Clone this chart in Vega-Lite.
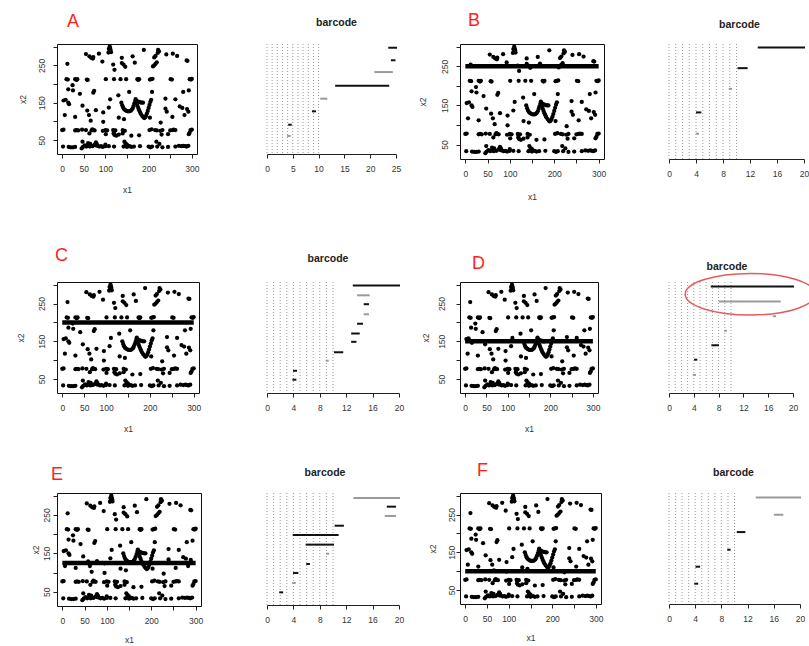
{
"$schema": "https://vega.github.io/schema/vega-lite/v6.json",
"background": "white",
"padding": 0,
"columns": 8,
"spacing": 0,
"bounds": "flush",
"align": "each",
"config": {
  "font": "Liberation Sans",
  "view": {"stroke": null},
  "axis": {"labelFontSize": 8.5, "labelColor": "#333", "tickColor": "#222", "domainColor": "#222", "tickSize": 4, "labelPadding": 6, "titleFontSize": 8.5, "titleFontWeight": "normal", "titleColor": "#333", "grid": false, "minExtent": 20, "maxExtent": 20, "labelFlush": false, "labelOverlap": false, "titlePadding": 11}
},
"datasets": {
  "pts": [
    {"x":110,"y":300},{"x":108,"y":294},{"x":112,"y":291},{"x":109,"y":287},{"x":113,"y":285},{"x":107,"y":284},{"x":111,"y":296},
    {"x":55,"y":280},{"x":63,"y":274},{"x":67,"y":270},{"x":71,"y":268},{"x":72,"y":272},{"x":85,"y":281},{"x":93,"y":260},
    {"x":118,"y":252},{"x":121,"y":238},{"x":138,"y":270},{"x":138,"y":256},{"x":142,"y":252},{"x":146,"y":246},
    {"x":163,"y":274},{"x":168,"y":257},{"x":189,"y":291},
    {"x":222,"y":291},{"x":224,"y":287},{"x":221,"y":283},{"x":216,"y":275},{"x":213,"y":271},{"x":219,"y":258},{"x":216,"y":254},{"x":213,"y":250},{"x":210,"y":247},
    {"x":241,"y":279},{"x":256,"y":281},{"x":266,"y":275},{"x":288,"y":263},{"x":290,"y":262},{"x":12,"y":254},
    {"x":10,"y":213},{"x":13,"y":212},{"x":30,"y":213},{"x":33,"y":211},{"x":35,"y":213},{"x":57,"y":212},{"x":59,"y":211},{"x":101,"y":213},{"x":120,"y":213},{"x":135,"y":213},{"x":148,"y":213},{"x":174,"y":213},{"x":176,"y":211},{"x":178,"y":213},{"x":203,"y":212},{"x":206,"y":213},{"x":209,"y":214},{"x":251,"y":213},{"x":254,"y":212},{"x":295,"y":213},{"x":298,"y":212},{"x":300,"y":214},
    {"x":14,"y":186},{"x":24,"y":197},{"x":25,"y":183},{"x":41,"y":174},{"x":72,"y":177},{"x":74,"y":182},{"x":111,"y":159},{"x":130,"y":170},{"x":155,"y":179},{"x":208,"y":179},{"x":280,"y":179},{"x":293,"y":183},{"x":3,"y":156},{"x":8,"y":158},{"x":14,"y":150},{"x":16,"y":146},{"x":239,"y":161},{"x":262,"y":159},
    {"x":47,"y":142},{"x":58,"y":129},{"x":62,"y":117},{"x":66,"y":102},{"x":78,"y":130},{"x":95,"y":124},{"x":95,"y":99},{"x":6,"y":117},{"x":30,"y":112},{"x":131,"y":110},{"x":143,"y":106},{"x":203,"y":110},{"x":228,"y":97},{"x":255,"y":112},{"x":239,"y":134},{"x":242,"y":126},{"x":272,"y":140},{"x":278,"y":136},{"x":289,"y":133},{"x":292,"y":126},{"x":283,"y":117},{"x":108,"y":137},
    {"x":0,"y":77},{"x":3,"y":78},{"x":30,"y":76},{"x":33,"y":77},{"x":37,"y":76},{"x":46,"y":78},{"x":55,"y":77},{"x":68,"y":76},{"x":70,"y":79},{"x":72,"y":77},{"x":75,"y":76},{"x":94,"y":75},{"x":100,"y":77},{"x":104,"y":76},{"x":118,"y":77},{"x":120,"y":74},{"x":123,"y":76},{"x":140,"y":77},{"x":145,"y":75},{"x":202,"y":77},{"x":207,"y":79},{"x":215,"y":77},{"x":219,"y":76},{"x":227,"y":75},{"x":232,"y":77},{"x":250,"y":76},{"x":255,"y":77},{"x":258,"y":78},{"x":262,"y":77},{"x":297,"y":77},{"x":300,"y":78},
    {"x":101,"y":66},{"x":121,"y":64},{"x":125,"y":62},{"x":131,"y":65},{"x":119,"y":68},{"x":230,"y":65},{"x":245,"y":66},{"x":293,"y":66},{"x":295,"y":70},{"x":63,"y":68},{"x":160,"y":62},{"x":178,"y":63},{"x":140,"y":68},
    {"x":2,"y":33},{"x":15,"y":32},{"x":20,"y":31},{"x":25,"y":31},{"x":30,"y":32},{"x":45,"y":28},{"x":48,"y":32},{"x":52,"y":36},{"x":56,"y":33},{"x":60,"y":35},{"x":64,"y":33},{"x":70,"y":34},{"x":75,"y":38},{"x":78,"y":36},{"x":82,"y":35},{"x":86,"y":33},{"x":90,"y":34},{"x":94,"y":32},{"x":100,"y":34},{"x":108,"y":34},{"x":120,"y":33},{"x":142,"y":33},{"x":146,"y":35},{"x":150,"y":32},{"x":156,"y":34},{"x":160,"y":32},{"x":166,"y":33},{"x":180,"y":34},{"x":200,"y":33},{"x":204,"y":31},{"x":208,"y":33},{"x":220,"y":33},{"x":232,"y":31},{"x":245,"y":32},{"x":262,"y":33},{"x":270,"y":35},{"x":276,"y":34},{"x":281,"y":35},{"x":285,"y":34},{"x":288,"y":33},{"x":292,"y":35},
    {"x":47,"y":46},{"x":60,"y":42},{"x":78,"y":44},{"x":80,"y":40},{"x":147,"y":41},{"x":144,"y":46},{"x":150,"y":38},{"x":218,"y":46},{"x":225,"y":40},{"x":65,"y":40},{"x":100,"y":38},
    {"x":137,"y":150},{"x":139,"y":143},{"x":141,"y":137},{"x":143,"y":133},{"x":146,"y":130},{"x":149,"y":128},{"x":152,"y":127},{"x":155,"y":127},{"x":158,"y":128},{"x":161,"y":131},{"x":163,"y":135},{"x":165,"y":141},{"x":167,"y":148},{"x":169,"y":155},{"x":170,"y":160},
    {"x":172,"y":155},{"x":175,"y":153},{"x":178,"y":152},{"x":181,"y":151},{"x":184,"y":150},{"x":187,"y":150},
    {"x":172,"y":148},{"x":174,"y":142},{"x":176,"y":136},{"x":178,"y":130},{"x":180,"y":125},{"x":182,"y":120},{"x":185,"y":115},{"x":188,"y":111},{"x":190,"y":109},{"x":192,"y":111},{"x":194,"y":115},{"x":196,"y":121},{"x":198,"y":128},{"x":200,"y":136},{"x":202,"y":144},{"x":204,"y":152},{"x":206,"y":158}
  ],
  "grid": [{"x":0},{"x":1},{"x":2},{"x":3},{"x":4},{"x":5},{"x":6},{"x":7},{"x":8},{"x":9},{"x":10}],
  "bars": [
    {"p":"A","x":23.7,"x2":25.0,"y":0.966,"dim":0},{"p":"A","x":24.2,"x2":24.7,"y":0.852,"dim":0},{"p":"A","x":21.0,"x2":24.2,"y":0.745,"dim":1},{"p":"A","x":13.4,"x2":23.5,"y":0.621,"dim":0},{"p":"A","x":10.5,"x2":11.5,"y":0.503,"dim":1},{"p":"A","x":8.9,"x2":9.3,"y":0.388,"dim":0},{"p":"A","x":4.3,"x2":4.6,"y":0.266,"dim":0},{"p":"A","x":4.1,"x2":4.4,"y":0.164,"dim":1},
    {"p":"B","x":13.3,"x2":20.0,"y":0.97,"dim":0},{"p":"B","x":10.3,"x2":11.5,"y":0.79,"dim":0},{"p":"B","x":9.0,"x2":9.2,"y":0.61,"dim":1},{"p":"B","x":4.15,"x2":4.64,"y":0.405,"dim":0},{"p":"B","x":4.1,"x2":4.3,"y":0.22,"dim":1},
    {"p":"C","x":13.15,"x2":20.0,"y":0.968,"dim":0},{"p":"C","x":13.8,"x2":15.4,"y":0.88,"dim":1},{"p":"C","x":14.8,"x2":15.3,"y":0.8,"dim":0},{"p":"C","x":14.8,"x2":15.3,"y":0.709,"dim":1},{"p":"C","x":13.8,"x2":14.4,"y":0.624,"dim":0},{"p":"C","x":12.9,"x2":13.9,"y":0.536,"dim":0},{"p":"C","x":12.9,"x2":13.4,"y":0.461,"dim":0},{"p":"C","x":10.3,"x2":11.4,"y":0.367,"dim":0},{"p":"C","x":9.05,"x2":9.2,"y":0.291,"dim":1},{"p":"C","x":4.1,"x2":4.4,"y":0.2,"dim":0},{"p":"C","x":4.0,"x2":4.3,"y":0.12,"dim":0},
    {"p":"D","x":6.9,"x2":20.0,"y":0.959,"dim":0},{"p":"D","x":8.2,"x2":17.85,"y":0.825,"dim":1},{"p":"D","x":16.9,"x2":17.1,"y":0.692,"dim":1},{"p":"D","x":9.05,"x2":9.2,"y":0.561,"dim":1},{"p":"D","x":7.0,"x2":7.9,"y":0.43,"dim":0},{"p":"D","x":4.2,"x2":4.4,"y":0.3,"dim":0},{"p":"D","x":4.0,"x2":4.2,"y":0.163,"dim":1},
    {"p":"E","x":13.25,"x2":20.0,"y":0.955,"dim":1},{"p":"E","x":18.3,"x2":19.4,"y":0.878,"dim":0},{"p":"E","x":18.0,"x2":19.4,"y":0.795,"dim":1},{"p":"E","x":10.4,"x2":11.5,"y":0.708,"dim":0},{"p":"E","x":4.05,"x2":10.7,"y":0.625,"dim":0},{"p":"E","x":6.0,"x2":10.0,"y":0.539,"dim":0},{"p":"E","x":9.1,"x2":9.25,"y":0.458,"dim":1},{"p":"E","x":6.1,"x2":6.35,"y":0.366,"dim":0},{"p":"E","x":4.1,"x2":4.6,"y":0.286,"dim":0},{"p":"E","x":3.95,"x2":4.2,"y":0.196,"dim":1},{"p":"E","x":2.0,"x2":2.3,"y":0.113,"dim":0},
    {"p":"F","x":13.4,"x2":20.0,"y":0.96,"dim":1},{"p":"F","x":16.2,"x2":17.3,"y":0.804,"dim":1},{"p":"F","x":10.5,"x2":11.5,"y":0.648,"dim":0},{"p":"F","x":9.05,"x2":9.25,"y":0.489,"dim":0},{"p":"F","x":4.2,"x2":4.6,"y":0.336,"dim":0},{"p":"F","x":4.0,"x2":4.3,"y":0.183,"dim":0}
  ]
},
"concat": [
  {"width":57,"height":44,"data":{"values":[]},"mark":"point"},
  {"width":144,"height":44,"data":{"values":[]},"mark":"point"},
  {"width":66,"height":44,"data":{"values":[]},"mark":"point"},
  {"width":132,"height":44,"data":{"values":[]},"mark":"point"},
  {"width":61,"height":44,"data":{"values":[]},"mark":"point"},
  {"width":144,"height":44,"data":{"values":[]},"mark":"point"},
  {"width":65,"height":44,"data":{"values":[]},"mark":"point"},
  {"width":1,"height":44,"data":{"values":[]},"mark":"point"},

  {"width":57,"height":238,"data":{"values":[]},"mark":"point"},
  {"width":140,"height":110,"view":{"stroke":"#111","strokeWidth":1},
   "title":{"text":"A","anchor":"start","frame":"group","color":"#ff1f1f","fontSize":18,"fontWeight":"normal","offset":12.6,"dx":10},
   "encoding":{"x":{"field":"x","type":"quantitative","scale":{"domain":[-12,312],"nice":false,"zero":false},"axis":{"title":"x1","values":[0,50,100,150,200,250,300],"labelExpr":"datum.value == 150 || datum.value == 250 ? '' : datum.label","domain":false}},
               "y":{"field":"y","type":"quantitative","scale":{"domain":[13,307],"nice":false,"zero":false},"axis":{"title":"x2","values":[50,100,150,200,250,300],"labelExpr":"datum.value == 50 || datum.value == 150 || datum.value == 250 ? datum.label : ''","domain":false,"labelAngle":-90,"labelAlign":"center","labelBaseline":"bottom","labelPadding":7,"titlePadding":9.5}}},
   "layer":[{"data":{"name":"pts"},"mark":{"type":"circle","color":"#000","size":18,"opacity":1}}]},
  {"width":66,"height":1,"data":{"values":[]},"mark":"point"},
  {"width":129,"height":110,
   "title":{"text":"barcode","anchor":"middle","frame":"group","fontSize":10.5,"fontWeight":"bold","color":"#222","offset":15.5,"dx":5},
   "encoding":{"x":{"field":"x","type":"quantitative","scale":{"domain":[0,25],"nice":false,"zero":false},"axis":{"title":null,"values":[0,5,10,15,20,25]}}},
   "layer":[
     {"data":{"name":"grid"},"mark":{"type":"rule","color":"#999999","strokeDash":[1,2],"strokeWidth":1}},
     {"data":{"name":"bars"},"transform":[{"filter":"datum.p == 'A'"}],"mark":{"type":"rule","strokeWidth":2,"strokeCap":"square"},"encoding":{"y":{"field":"y","type":"quantitative","scale":{"domain":[0,1],"nice":false,"zero":false},"axis":null},"x2":{"field":"x2"},"color":{"field":"dim","type":"nominal","scale":{"domain":[0,1],"range":["#111","#9a9a9a"]},"legend":null}}}
   ]},
  {"width":61,"height":1,"data":{"values":[]},"mark":"point"},
  {"width":144,"height":115,"view":{"stroke":"#111","strokeWidth":1},
   "title":{"text":"B","anchor":"start","frame":"group","color":"#ff1f1f","fontSize":18,"fontWeight":"normal","offset":13.6,"dx":8},
   "encoding":{"x":{"field":"x","type":"quantitative","scale":{"domain":[-12,312],"nice":false,"zero":false},"axis":{"title":"x1","values":[0,50,100,150,200,250,300],"labelExpr":"datum.value == 150 || datum.value == 250 ? '' : datum.label","domain":false,"titlePadding":13}},
               "y":{"field":"y","type":"quantitative","scale":{"domain":[13,307],"nice":false,"zero":false},"axis":{"title":"x2","values":[50,100,150,200,250,300],"labelExpr":"datum.value == 50 || datum.value == 150 || datum.value == 250 ? datum.label : ''","domain":false,"labelAngle":-90,"labelAlign":"center","labelBaseline":"bottom","labelPadding":7,"titlePadding":12.5}}},
   "layer":[
     {"data":{"name":"pts"},"mark":{"type":"circle","color":"#000","size":18,"opacity":1}},
     {"data":{"values":[{"x":0,"x2":300,"y":250}]},"mark":{"type":"rule","color":"#000","strokeWidth":4.5},"encoding":{"x2":{"field":"x2"}}}
   ]},
  {"width":65,"height":1,"data":{"values":[]},"mark":"point"},
  {"width":135,"height":115,
   "title":{"text":"barcode","anchor":"middle","frame":"group","fontSize":10.5,"fontWeight":"bold","color":"#222","offset":12.8,"dx":3},
   "encoding":{"x":{"field":"x","type":"quantitative","scale":{"domain":[0,20],"nice":false,"zero":false},"axis":{"title":null,"values":[0,4,8,12,16,20]}}},
   "layer":[
     {"data":{"name":"grid"},"mark":{"type":"rule","color":"#999999","strokeDash":[1,2],"strokeWidth":1}},
     {"data":{"name":"bars"},"transform":[{"filter":"datum.p == 'B'"}],"mark":{"type":"rule","strokeWidth":2,"strokeCap":"square"},"encoding":{"y":{"field":"y","type":"quantitative","scale":{"domain":[0,1],"nice":false,"zero":false},"axis":null},"x2":{"field":"x2"},"color":{"field":"dim","type":"nominal","scale":{"domain":[0,1],"range":["#111","#9a9a9a"]},"legend":null}}}
   ]},

  {"width":57,"height":211,"data":{"values":[]},"mark":"point"},
  {"width":142,"height":111,"view":{"stroke":"#111","strokeWidth":1},
   "title":{"text":"C","anchor":"start","frame":"group","color":"#ff1f1f","fontSize":18,"fontWeight":"normal","offset":17.2,"dx":-2},
   "encoding":{"x":{"field":"x","type":"quantitative","scale":{"domain":[-12,312],"nice":false,"zero":false},"axis":{"title":"x1","values":[0,50,100,150,200,250,300],"labelExpr":"datum.value == 150 || datum.value == 250 ? '' : datum.label","domain":false}},
               "y":{"field":"y","type":"quantitative","scale":{"domain":[13,307],"nice":false,"zero":false},"axis":{"title":"x2","values":[50,100,150,200,250,300],"labelExpr":"datum.value == 50 || datum.value == 150 || datum.value == 250 ? datum.label : ''","domain":false,"labelAngle":-90,"labelAlign":"center","labelBaseline":"bottom","labelPadding":7,"titlePadding":11.5}}},
   "layer":[
     {"data":{"name":"pts"},"mark":{"type":"circle","color":"#000","size":18,"opacity":1}},
     {"data":{"values":[{"x":0,"x2":300,"y":200}]},"mark":{"type":"rule","color":"#000","strokeWidth":4.5},"encoding":{"x2":{"field":"x2"}}}
   ]},
  {"width":66,"height":1,"data":{"values":[]},"mark":"point"},
  {"width":132,"height":111,
   "title":{"text":"barcode","anchor":"middle","frame":"group","fontSize":10.5,"fontWeight":"bold","color":"#222","offset":17.5,"dx":-5},
   "encoding":{"x":{"field":"x","type":"quantitative","scale":{"domain":[0,20],"nice":false,"zero":false},"axis":{"title":null,"values":[0,4,8,12,16,20]}}},
   "layer":[
     {"data":{"name":"grid"},"mark":{"type":"rule","color":"#999999","strokeDash":[1,2],"strokeWidth":1}},
     {"data":{"name":"bars"},"transform":[{"filter":"datum.p == 'C'"}],"mark":{"type":"rule","strokeWidth":2,"strokeCap":"square"},"encoding":{"y":{"field":"y","type":"quantitative","scale":{"domain":[0,1],"nice":false,"zero":false},"axis":null},"x2":{"field":"x2"},"color":{"field":"dim","type":"nominal","scale":{"domain":[0,1],"range":["#111","#9a9a9a"]},"legend":null}}}
   ]},
  {"width":61,"height":1,"data":{"values":[]},"mark":"point"},
  {"width":138,"height":111,"view":{"stroke":"#111","strokeWidth":1},
   "title":{"text":"D","anchor":"start","frame":"group","color":"#ff1f1f","fontSize":18,"fontWeight":"normal","offset":8.9,"dx":12},
   "encoding":{"x":{"field":"x","type":"quantitative","scale":{"domain":[-12,312],"nice":false,"zero":false},"axis":{"title":"x1","values":[0,50,100,150,200,250,300],"labelExpr":"datum.value == 150 || datum.value == 250 ? '' : datum.label","domain":false}},
               "y":{"field":"y","type":"quantitative","scale":{"domain":[13,307],"nice":false,"zero":false},"axis":{"title":"x2","values":[50,100,150,200,250,300],"labelExpr":"datum.value == 50 || datum.value == 150 || datum.value == 250 ? datum.label : ''","domain":false,"labelAngle":-90,"labelAlign":"center","labelBaseline":"bottom","labelPadding":10,"titlePadding":9.5}}},
   "layer":[
     {"data":{"name":"pts"},"mark":{"type":"circle","color":"#000","size":18,"opacity":1}},
     {"data":{"values":[{"x":0,"x2":300,"y":150}]},"mark":{"type":"rule","color":"#000","strokeWidth":4.5},"encoding":{"x2":{"field":"x2"}}}
   ]},
  {"width":65,"height":1,"data":{"values":[]},"mark":"point"},
  {"width":124,"height":111,
   "title":{"text":"barcode","anchor":"middle","frame":"group","fontSize":10.5,"fontWeight":"bold","color":"#222","offset":-2,"dx":-4},
   "encoding":{"x":{"field":"x","type":"quantitative","scale":{"domain":[0,20],"nice":false,"zero":false},"axis":{"title":null,"values":[0,4,8,12,16,20]}}},
   "layer":[
     {"data":{"name":"grid"},"mark":{"type":"rule","color":"#999999","strokeDash":[1,2],"strokeWidth":1}},
     {"data":{"name":"bars"},"transform":[{"filter":"datum.p == 'D'"}],"mark":{"type":"rule","strokeWidth":2,"strokeCap":"square"},"encoding":{"y":{"field":"y","type":"quantitative","scale":{"domain":[0,1],"nice":false,"zero":false},"axis":null},"x2":{"field":"x2"},"color":{"field":"dim","type":"nominal","scale":{"domain":[0,1],"range":["#111","#9a9a9a"]},"legend":null}}},
     {"data":{"values":[{"x":13.1,"y":0.89}]},"mark":{"type":"point","shape":"M -1 0 A 1 0.32 0 1 1 1 0 A 1 0.32 0 1 1 -1 0 Z","size":16900,"filled":false,"stroke":"#e85a5a","strokeWidth":1.5,"opacity":1},"encoding":{"y":{"field":"y","type":"quantitative","axis":null}}}
   ]},

  {"width":57,"height":153,"data":{"values":[]},"mark":"point"},
  {"width":144,"height":113,"view":{"stroke":"#111","strokeWidth":1},
   "title":{"text":"E","anchor":"start","frame":"group","color":"#ff1f1f","fontSize":18,"fontWeight":"normal","offset":8.9,"dx":-6},
   "encoding":{"x":{"field":"x","type":"quantitative","scale":{"domain":[-12,312],"nice":false,"zero":false},"axis":{"title":"x1","values":[0,50,100,150,200,250,300],"labelExpr":"datum.value == 150 || datum.value == 250 ? '' : datum.label","domain":false,"titlePadding":9}},
               "y":{"field":"y","type":"quantitative","scale":{"domain":[13,307],"nice":false,"zero":false},"axis":{"title":"x2","values":[50,100,150,200,250,300],"labelExpr":"datum.value == 50 || datum.value == 150 || datum.value == 250 ? datum.label : ''","domain":false,"labelAngle":-90,"labelAlign":"center","labelBaseline":"bottom","labelPadding":1.5,"minExtent":10,"maxExtent":10,"titlePadding":7}}},
   "layer":[
     {"data":{"name":"pts"},"mark":{"type":"circle","color":"#000","size":18,"opacity":1}},
     {"data":{"values":[{"x":0,"x2":300,"y":125}]},"mark":{"type":"rule","color":"#000","strokeWidth":4.5},"encoding":{"x2":{"field":"x2"}}}
   ]},
  {"width":66,"height":1,"data":{"values":[]},"mark":"point"},
  {"width":132,"height":112,
   "title":{"text":"barcode","anchor":"middle","frame":"group","fontSize":10.5,"fontWeight":"bold","color":"#222","offset":14.1,"dx":-8},
   "encoding":{"x":{"field":"x","type":"quantitative","scale":{"domain":[0,20],"nice":false,"zero":false},"axis":{"title":null,"values":[0,4,8,12,16,20]}}},
   "layer":[
     {"data":{"name":"grid"},"mark":{"type":"rule","color":"#999999","strokeDash":[1,2],"strokeWidth":1}},
     {"data":{"name":"bars"},"transform":[{"filter":"datum.p == 'E'"}],"mark":{"type":"rule","strokeWidth":2,"strokeCap":"square"},"encoding":{"y":{"field":"y","type":"quantitative","scale":{"domain":[0,1],"nice":false,"zero":false},"axis":null},"x2":{"field":"x2"},"color":{"field":"dim","type":"nominal","scale":{"domain":[0,1],"range":["#111","#9a9a9a"]},"legend":null}}}
   ]},
  {"width":61,"height":1,"data":{"values":[]},"mark":"point"},
  {"width":141,"height":111,"view":{"stroke":"#111","strokeWidth":1},
   "title":{"text":"F","anchor":"start","frame":"group","color":"#ff1f1f","fontSize":18,"fontWeight":"normal","offset":13.2,"dx":17},
   "encoding":{"x":{"field":"x","type":"quantitative","scale":{"domain":[-12,312],"nice":false,"zero":false},"axis":{"title":"x1","values":[0,50,100,150,200,250,300],"labelExpr":"datum.value == 150 || datum.value == 250 ? '' : datum.label","domain":false,"titlePadding":9}},
               "y":{"field":"y","type":"quantitative","scale":{"domain":[13,307],"nice":false,"zero":false},"axis":{"title":"x2","values":[50,100,150,200,250,300],"labelExpr":"datum.value == 50 || datum.value == 150 || datum.value == 250 ? datum.label : ''","domain":false,"labelAngle":-90,"labelAlign":"center","labelBaseline":"bottom","labelPadding":0,"minExtent":12,"maxExtent":12,"titlePadding":10.5}}},
   "layer":[
     {"data":{"name":"pts"},"mark":{"type":"circle","color":"#000","size":18,"opacity":1}},
     {"data":{"values":[{"x":0,"x2":300,"y":100}]},"mark":{"type":"rule","color":"#000","strokeWidth":4.5},"encoding":{"x2":{"field":"x2"}}}
   ]},
  {"width":65,"height":1,"data":{"values":[]},"mark":"point"},
  {"width":131,"height":111,
   "title":{"text":"barcode","anchor":"middle","frame":"group","fontSize":10.5,"fontWeight":"bold","color":"#222","offset":14.1,"dx":-1},
   "encoding":{"x":{"field":"x","type":"quantitative","scale":{"domain":[0,20],"nice":false,"zero":false},"axis":{"title":null,"values":[0,4,8,12,16,20]}}},
   "layer":[
     {"data":{"name":"grid"},"mark":{"type":"rule","color":"#999999","strokeDash":[1,2],"strokeWidth":1}},
     {"data":{"name":"bars"},"transform":[{"filter":"datum.p == 'F'"}],"mark":{"type":"rule","strokeWidth":2,"strokeCap":"square"},"encoding":{"y":{"field":"y","type":"quantitative","scale":{"domain":[0,1],"nice":false,"zero":false},"axis":null},"x2":{"field":"x2"},"color":{"field":"dim","type":"nominal","scale":{"domain":[0,1],"range":["#111","#9a9a9a"]},"legend":null}}}
   ]}
]
}
